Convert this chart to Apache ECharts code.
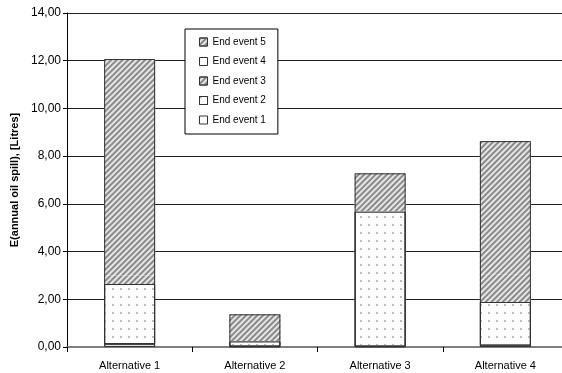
<!DOCTYPE html>
<html>
<head>
<meta charset="utf-8">
<script src="https://cdn.jsdelivr.net/npm/echarts@6/dist/echarts.min.js"></script>
<style>html,body{margin:0;padding:0;background:#fff}#c{width:562px;height:373px}</style>
</head>
<body>
<div id="c"></div>
<script>
var categories = ['Alternative 1', 'Alternative 2', 'Alternative 3', 'Alternative 4'];
var endEvent1 = [0.12, 0.02, 0.02, 0.06];
var endEvent2 = [2.52, 0.22, 5.66, 1.83];
var endEvent3 = [0.36, 0, 0, 1.14];
var endEvent4 = [0, 0, 0, 0];
var endEvent5 = [9.07, 1.13, 1.60, 5.60];
var seriesNames = ['End event 1', 'End event 2', 'End event 3', 'End event 4', 'End event 5'];
var yMin = 0, yMax = 14, yStep = 2;

var FONT = '"Liberation Sans", Arial, sans-serif';
var hatch = { symbol: 'rect', color: '#8a8a8a', dashArrayX: [1, 0], dashArrayY: [1.6, 1.6], rotation: -Math.PI / 4 };
var dots = { symbol: 'circle', symbolSize: 1, color: '#a8a8a8', dashArrayX: [2, 6], dashArrayY: [2, 6], rotation: 0 };

function mk(name, data, color, decal, bw) {
  var s = {
    name: name, type: 'bar', stack: 'all',
    data: data.map(function (v) { return v === 0 ? '-' : v; }),
    barWidth: 51, barGap: '-100%',
    itemStyle: { color: color, borderColor: '#333', borderWidth: bw },
    emphasis: { disabled: true }
  };
  if (decal) s.itemStyle.decal = decal;
  return s;
}

var totals = categories.map(function (c, i) {
  return +(endEvent1[i] + endEvent2[i] + endEvent3[i] + endEvent4[i] + endEvent5[i]).toFixed(2);
});

var legendData = seriesNames.slice().reverse().map(function (n) {
  return { name: n, itemStyle: { borderColor: '#333', borderWidth: 1 } };
});

var chart = echarts.init(document.getElementById('c'), null, { renderer: 'canvas' });
chart.setOption({
  animation: false,
  backgroundColor: '#fff',
  aria: { enabled: false },
  grid: { left: 67, width: 501, top: 13, bottom: 26, containLabel: false, outerBoundsMode: 'none' },
  legend: {
    orient: 'vertical', left: 185, top: 29,
    data: legendData,
    itemWidth: 8, itemHeight: 8, itemGap: 7.5,
    icon: 'rect',
    padding: [7, 12, 8, 14],
    borderColor: '#000', borderWidth: 1, backgroundColor: '#fff',
    textStyle: { fontFamily: FONT, fontSize: 10, color: '#000', lineHeight: 12 },
    selectedMode: false
  },
  xAxis: {
    type: 'category', data: categories, boundaryGap: true,
    axisLine: { lineStyle: { color: '#808080', width: 2 } },
    axisTick: { show: true, length: 5, inside: false, lineStyle: { color: '#000', width: 1 } },
    axisLabel: { fontFamily: FONT, fontSize: 11, color: '#000', margin: 13 },
    splitLine: { show: false }
  },
  yAxis: {
    type: 'value', min: yMin, max: yMax, interval: yStep,
    name: 'E(annual oil spill), [Litres]', nameLocation: 'middle', nameGap: 47, nameRotate: 90,
    nameTextStyle: { fontFamily: FONT, fontSize: 11, fontWeight: 'bold', color: '#000' },
    axisLine: { show: true, lineStyle: { color: '#000', width: 1 } },
    axisTick: { show: true, length: 4, lineStyle: { color: '#000' } },
    axisLabel: { fontFamily: FONT, fontSize: 12, color: '#000', margin: 6,
      formatter: function (v) { return v.toFixed(2).replace('.', ','); } },
    splitLine: { show: true, lineStyle: { color: '#222', width: 1 } }
  },
  series: [
    mk(seriesNames[0], endEvent1, '#ffffff', null, 1),
    mk(seriesNames[1], endEvent2, '#ffffff', dots, 1),
    mk(seriesNames[2], endEvent3, '#e6e6e6', hatch, 0),
    mk(seriesNames[3], endEvent4, '#ffffff', null, 0),
    mk(seriesNames[4], endEvent5, '#e6e6e6', hatch, 0),
    {
      name: 'outline', type: 'bar', stack: 'outline', data: totals,
      barWidth: 51, barGap: '-100%', silent: true, z: 3,
      itemStyle: { color: 'rgba(0,0,0,0)', borderColor: '#333', borderWidth: 1 },
      emphasis: { disabled: true }
    }
  ]
});
</script>
</body>
</html>
